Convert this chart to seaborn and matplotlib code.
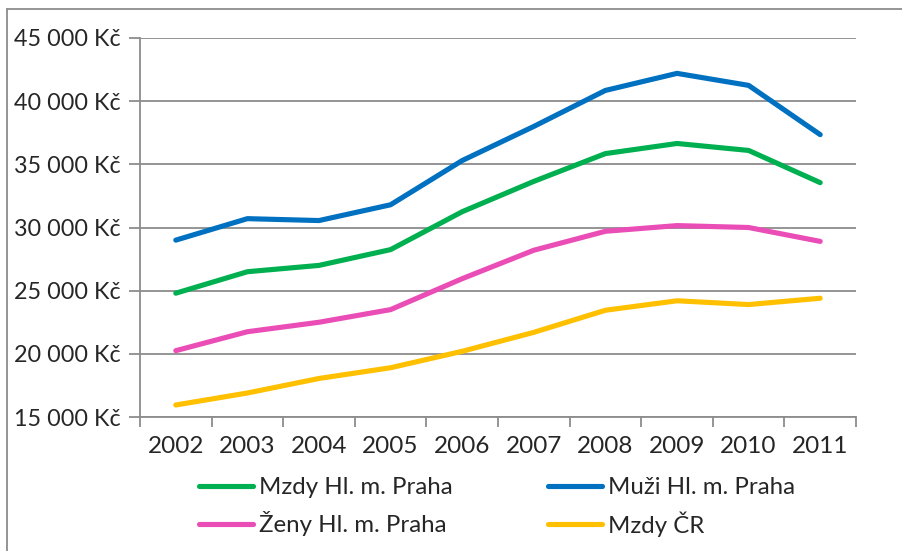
import matplotlib.pyplot as plt
import matplotlib.ticker as mticker
import pandas as pd
import seaborn as sns
from matplotlib.lines import Line2D

years = ["2002", "2003", "2004", "2005", "2006", "2007", "2008", "2009", "2010", "2011"]
mzdy_praha = [24800, 26500, 27000, 28250, 31250, 33650, 35850, 36650, 36100, 33550]
muzi_praha = [29000, 30700, 30550, 31800, 35300, 38000, 40850, 42200, 41250, 37350]
zeny_praha = [20250, 21750, 22500, 23500, 25950, 28200, 29700, 30150, 30000, 28900]
mzdy_cr = [15950, 16900, 18050, 18900, 20200, 21700, 23450, 24200, 23900, 24400]

series = ["Mzdy Hl. m. Praha", "Muži Hl. m. Praha", "Ženy Hl. m. Praha", "Mzdy ČR"]
colors = ["#00B050", "#0070C0", "#EA4DB6", "#FFC000"]

rows = []
for name, vals in zip(series, [mzdy_praha, muzi_praha, zeny_praha, mzdy_cr]):
    for i, v in enumerate(vals):
        rows.append({"pos": i, "value": v, "serie": name})
df = pd.DataFrame(rows)

sns.set_style("white")
plt.rcParams["font.family"] = ["Lato", "DejaVu Sans"]

fig = plt.figure(figsize=(9.02, 5.51), dpi=100)
ax = fig.add_axes([140 / 902, 1 - 417 / 551, 716 / 902, 379 / 551])

sns.lineplot(data=df, x="pos", y="value", hue="serie", hue_order=series,
             palette=colors, linewidth=3.7, ax=ax, legend=False)
for ln in ax.lines:
    ln.set_solid_capstyle("round")
    ln.set_solid_joinstyle("round")

# axes in the Excel look
ax.set_xlim(-0.5, 9.5)
ax.set_ylim(15000, 45000)
ax.yaxis.set_major_locator(mticker.MultipleLocator(5000))
ax.yaxis.set_major_formatter(mticker.FuncFormatter(lambda v, p: f"{int(v):,} Kč".replace(",", " ")))
ax.set_xticks(range(len(years)))
ax.set_xticklabels(years)
ax.xaxis.set_minor_locator(mticker.FixedLocator([i - 0.5 for i in range(len(years) + 1)]))
ax.tick_params(axis="x", which="major", length=0, pad=14, labelsize=17.5)
ax.tick_params(axis="x", which="minor", length=7, width=1.3, color="#8c8c8c", bottom=True)
ax.tick_params(axis="y", length=8, width=1.3, color="#8c8c8c", left=True, labelsize=16.8, pad=6)
ax.grid(axis="y", color="#8c8c8c", linewidth=1.3)
ax.set_axisbelow(True)
ax.set_xlabel("")
ax.set_ylabel("")
for side in ["top", "right"]:
    ax.spines[side].set_visible(False)
for side in ["left", "bottom"]:
    ax.spines[side].set_color("#8c8c8c")
    ax.spines[side].set_linewidth(1.3)

# legend is filled row by row: Mzdy Praha, Muži Praha / Ženy Praha, Mzdy ČR
order = [0, 2, 1, 3]
handles = [Line2D([0], [0], color=colors[i], linewidth=3.7, solid_capstyle="round") for i in order]
labels = [series[i] for i in order]
fig.legend(handles, labels, ncol=2, loc="center", bbox_to_anchor=(497 / 902, 1 - 507 / 551),
           frameon=False, fontsize=17.3, handlelength=2.25, handletextpad=0.22,
           columnspacing=4.0, labelspacing=0.55)

# chart frame (top and left edges visible)
fig.add_artist(Line2D([7 / 902, 7 / 902], [0, 1 - 9 / 551], color="#8c8c8c", linewidth=1.3))
fig.add_artist(Line2D([7 / 902, 1], [1 - 9 / 551, 1 - 9 / 551], color="#8c8c8c", linewidth=1.3))

fig.savefig("out.png", dpi=100)
